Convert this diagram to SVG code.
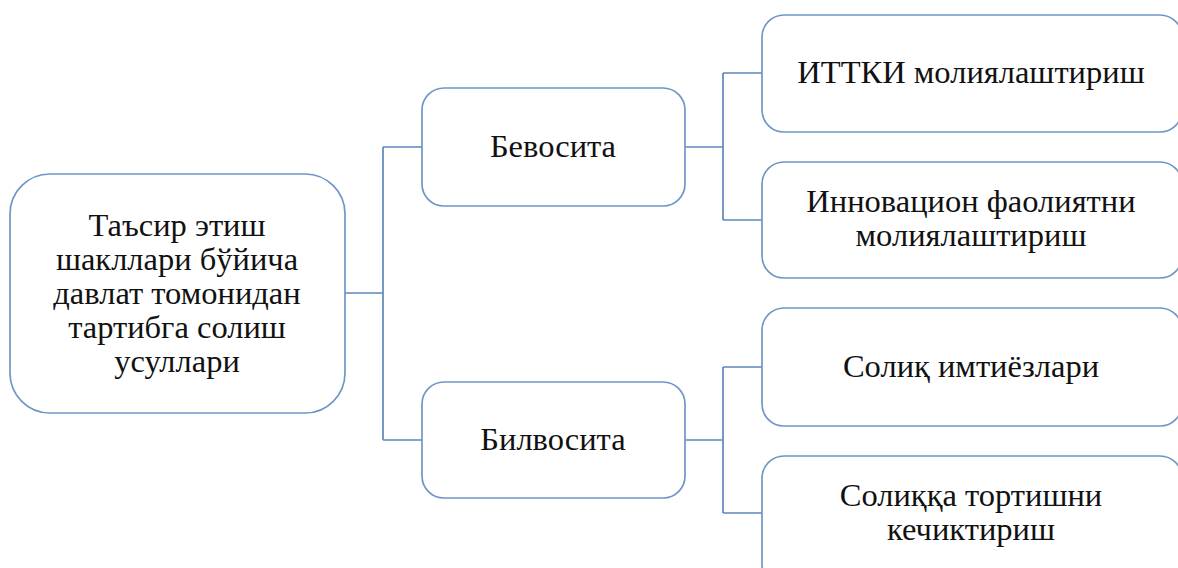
<svg xmlns="http://www.w3.org/2000/svg" width="1178" height="568" viewBox="0 0 1178 568">
<style>
.box{fill:#fff;stroke:#6f96c6;stroke-width:1.7}
.ln{fill:none;stroke:#5d88bb;stroke-width:1.7}
.t{font-family:'Liberation Serif','DejaVu Serif',serif;font-size:32.5px;fill:#111;text-anchor:middle}
</style>
<rect width="1178" height="568" fill="#fff"/>
<g id="connectors">
<path class="ln" d="M345 293 H383 M383 147 V440 M383 147 H422 M383 440 H422"/>
<path class="ln" d="M685 147 H723 M723 73 V220 M723 73 H762 M723 220 H762"/>
<path class="ln" d="M685 440 H723 M723 367 V513 M723 367 H762 M723 513 H762"/>
</g>
<g id="root">
<rect class="box" x="10" y="174" width="335" height="239" rx="40"/>
<text class="t" x="177" y="236">Таъсир этиш</text>
<text class="t" x="177" y="270">шакллари бўйича</text>
<text class="t" x="177" y="304">давлат томонидан</text>
<text class="t" x="177" y="338">тартибга солиш</text>
<text class="t" x="177" y="372">усуллари</text>
</g>
<g id="bevosita">
<rect class="box" x="422" y="88" width="263" height="118" rx="22"/>
<text class="t" x="553" y="157">Бевосита</text>
</g>
<g id="bilvosita">
<rect class="box" x="422" y="382" width="263" height="116" rx="22"/>
<text class="t" x="553" y="450">Билвосита</text>
</g>
<g id="ittki">
<rect class="box" x="762" y="15" width="420" height="117" rx="22"/>
<text class="t" x="971" y="83">ИТТКИ молиялаштириш</text>
</g>
<g id="innovation">
<rect class="box" x="762" y="162" width="420" height="116" rx="22"/>
<text class="t" x="971" y="212">Инновацион фаолиятни</text>
<text class="t" x="971" y="246">молиялаштириш</text>
</g>
<g id="soliq">
<rect class="box" x="762" y="308" width="420" height="118" rx="22"/>
<text class="t" x="971" y="377">Солиқ имтиёзлари</text>
</g>
<g id="kechiktirish">
<rect class="box" x="762" y="456" width="420" height="130" rx="22"/>
<text class="t" x="971" y="506">Солиққа тортишни</text>
<text class="t" x="971" y="540">кечиктириш</text>
</g>
</svg>
